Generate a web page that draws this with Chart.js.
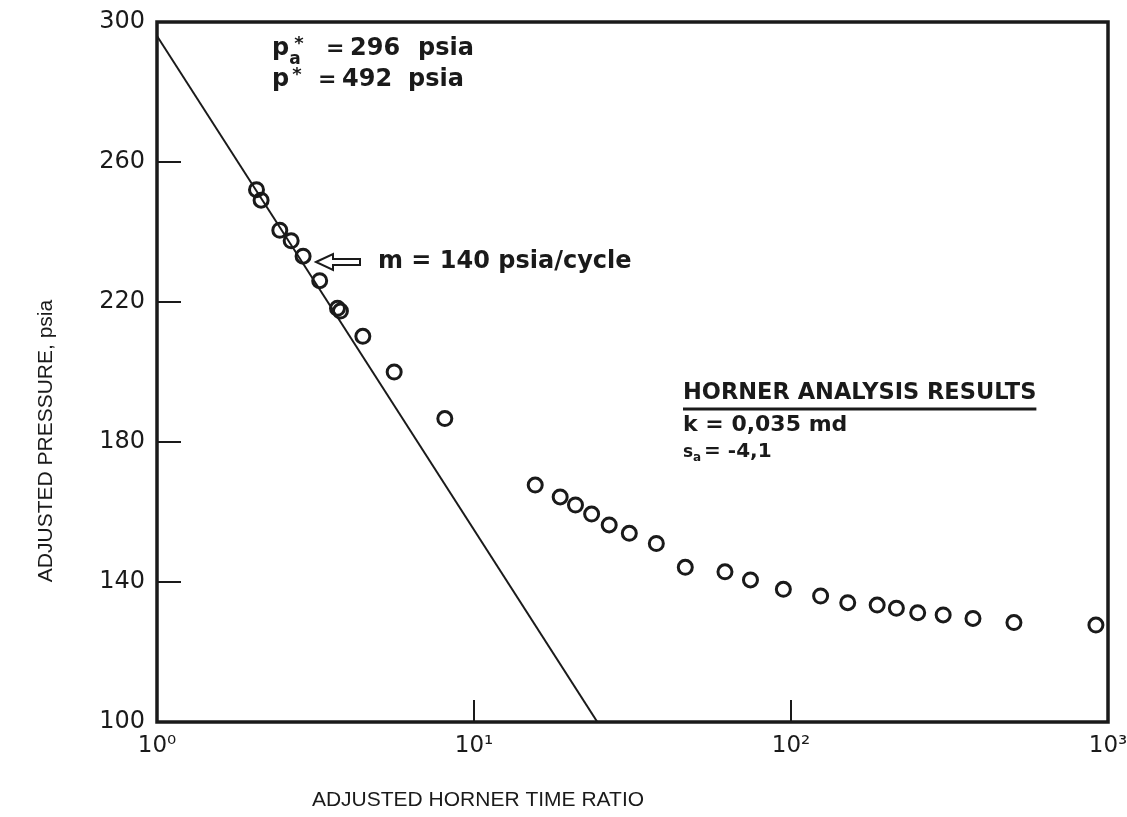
<!DOCTYPE html>
<html>
<head>
<meta charset="utf-8">
<script src="https://cdn.jsdelivr.net/npm/chart.js@4.4.1/dist/chart.umd.min.js"></script>
<style>
	html, body { margin: 0; padding: 0; background: #fff; }
	#wrap { width: 1127px; height: 817px; position: relative; }
</style>
</head>
<body>
<div id="wrap"><canvas id="chart"></canvas></div>
<script>
// data
const hornerRatio = [
	2.06, 2.13, 2.44, 2.65, 2.89, 3.26, 3.71, 3.79, 4.46, 5.60, 8.09,
	15.6, 18.7, 20.9, 23.5, 26.7, 30.9, 37.6, 46.4, 61.9, 74.5, 94.6,
	124, 151, 187, 215, 251, 302, 375, 505, 916
];
const pressure = [
	252.1, 249.1, 240.5, 237.5, 233.1, 226.1, 218.2, 217.4, 210.2, 200.0, 186.7,
	167.7, 164.3, 162.0, 159.4, 156.3, 153.9, 151.0, 144.2, 142.9, 140.6, 137.9,
	136.0, 134.1, 133.4, 132.5, 131.2, 130.6, 129.6, 128.4, 127.7
];
// semilog straight line, m = 140 psia/cycle
const fitRatio = [1, 24.5];
const fitPressure = [296, 100];

const xTicks = [1, 10, 100, 1000];
const xTickLabels = ['10⁰', '10¹', '10²', '10³'];
const yMin = 100, yMax = 300, yStep = 40;
const yInnerTicks = [140, 180, 220, 260];
const xInnerTicks = [10, 100];

const ink = '#1a1a1a';
const tickFont = 'DejaVu Sans';

let txt = (ctx, s, x, y, size, align = 'left', base = 'alphabetic', family = tickFont, weight = 'bold') => {
	ctx.font = weight + ' ' + size + 'px "' + family + '"';
	ctx.textAlign = align;
	ctx.textBaseline = base;
	ctx.fillText(s, x, y);
	return ctx.measureText(s).width;
};

const decorPlugin = {
	id: 'decor',
	afterDatasetsDraw(chart) {
		const ctx = chart.ctx;
		const a = chart.chartArea;
		const xs = chart.scales.x, ys = chart.scales.y;
		ctx.save();
		ctx.strokeStyle = ink;
		ctx.fillStyle = ink;

		// inward tick marks
		ctx.lineWidth = 2;
		for (let v of yInnerTicks) {
			let py = ys.getPixelForValue(v);
			ctx.beginPath();
			ctx.moveTo(a.left, py);
			ctx.lineTo(a.left + 24, py);
			ctx.stroke();
		}
		for (let v of xInnerTicks) {
			let px = xs.getPixelForValue(v);
			ctx.beginPath();
			ctx.moveTo(px, a.bottom);
			ctx.lineTo(px, a.bottom - 22);
			ctx.stroke();
		}

		// frame
		ctx.lineWidth = 3.5;
		ctx.strokeRect(a.left, a.top, a.right - a.left, a.bottom - a.top);

		// p* block
		let w = txt(ctx, 'p', 272, 55, 24);
		txt(ctx, 'a', 272 + w, 64, 17);
		txt(ctx, '*', 272 + w + 5, 49, 18);
		txt(ctx, '=', 326, 55, 22);
		txt(ctx, '296', 350, 55, 24);
		txt(ctx, 'psia', 418, 55, 24);
		txt(ctx, 'p', 272, 86, 24);
		txt(ctx, '*', 272 + w + 3, 80, 18);
		txt(ctx, '=', 318, 86, 22);
		txt(ctx, '492', 342, 86, 24);
		txt(ctx, 'psia', 408, 86, 24);

		// slope arrow
		let ay = 262;
		ctx.lineWidth = 2;
		ctx.beginPath();
		ctx.moveTo(316, ay);
		ctx.lineTo(333, ay - 8);
		ctx.lineTo(333, ay - 3);
		ctx.lineTo(360, ay - 3);
		ctx.lineTo(360, ay + 3);
		ctx.lineTo(333, ay + 3);
		ctx.lineTo(333, ay + 8);
		ctx.closePath();
		ctx.fillStyle = '#fff';
		ctx.fill();
		ctx.stroke();
		ctx.fillStyle = ink;
		txt(ctx, 'm = 140 psia/cycle', 378, ay, 24, 'left', 'middle');

		// results block
		let hw = txt(ctx, 'HORNER ANALYSIS RESULTS', 683, 393, 22.5, 'left', 'middle');
		ctx.lineWidth = 3;
		ctx.beginPath();
		ctx.moveTo(683, 409);
		ctx.lineTo(683 + hw, 409);
		ctx.stroke();
		txt(ctx, 'k = 0,035 md', 683, 425, 22, 'left', 'middle');
		let sw = txt(ctx, 's', 683, 457, 17);
		txt(ctx, 'a', 683 + sw, 461, 12);
		txt(ctx, '= -4,1', 683 + sw + 11, 457, 20);

		// axis titles
		txt(ctx, 'ADJUSTED HORNER TIME RATIO', 478, 800, 21, 'center', 'middle', 'Liberation Sans', 'normal');
		ctx.translate(46, 441);
		ctx.rotate(-Math.PI / 2);
		txt(ctx, 'ADJUSTED PRESSURE, psia', 0, 0, 21, 'center', 'middle', 'Liberation Sans', 'normal');
		ctx.restore();
	}
};

const points = hornerRatio.map((r, i) => ({ x: r, y: pressure[i] }));
const fitLine = fitRatio.map((r, i) => ({ x: r, y: fitPressure[i] }));

new Chart(document.getElementById('chart'), {
	type: 'scatter',
	data: {
		datasets: [
			{
				label: 'Straight line',
				data: fitLine,
				showLine: true,
				borderColor: ink,
				borderWidth: 2,
				pointRadius: 0,
				fill: false
			},
			{
				label: 'Adjusted pressure',
				data: points,
				pointStyle: 'circle',
				pointRadius: 7,
				pointBorderWidth: 3,
				pointBorderColor: ink,
				pointBackgroundColor: 'rgba(255,255,255,0)'
			}
		]
	},
	options: {
		responsive: true,
		maintainAspectRatio: false,
		animation: false,
		layout: { padding: { top: 22, right: 19, left: 0, bottom: 0 } },
		plugins: {
			legend: { display: false },
			tooltip: { enabled: false }
		},
		scales: {
			x: {
				type: 'logarithmic',
				min: 1,
				max: 1000,
				grid: { display: false, drawTicks: false },
				border: { display: false },
				afterBuildTicks(scale) {
					scale.ticks = xTicks.map(v => ({ value: v }));
				},
				afterFit(scale) {
					scale.height = 95;
					scale.paddingLeft = 0;
					scale.paddingRight = 0;
				},
				ticks: {
					padding: 10,
					color: ink,
					maxRotation: 0,
					autoSkip: false,
					font: { family: tickFont, size: 23 },
					callback: (v) => xTickLabels[xTicks.indexOf(v)] || ''
				}
			},
			y: {
				min: yMin,
				max: yMax,
				grid: { display: false, drawTicks: false },
				border: { display: false },
				afterFit(scale) {
					scale.width = 157;
					scale.paddingTop = 0;
					scale.paddingBottom = 0;
				},
				ticks: {
					stepSize: yStep,
					padding: 12,
					color: ink,
					font: { family: tickFont, size: 24 }
				}
			}
		}
	},
	plugins: [decorPlugin]
});
</script>
</body>
</html>
